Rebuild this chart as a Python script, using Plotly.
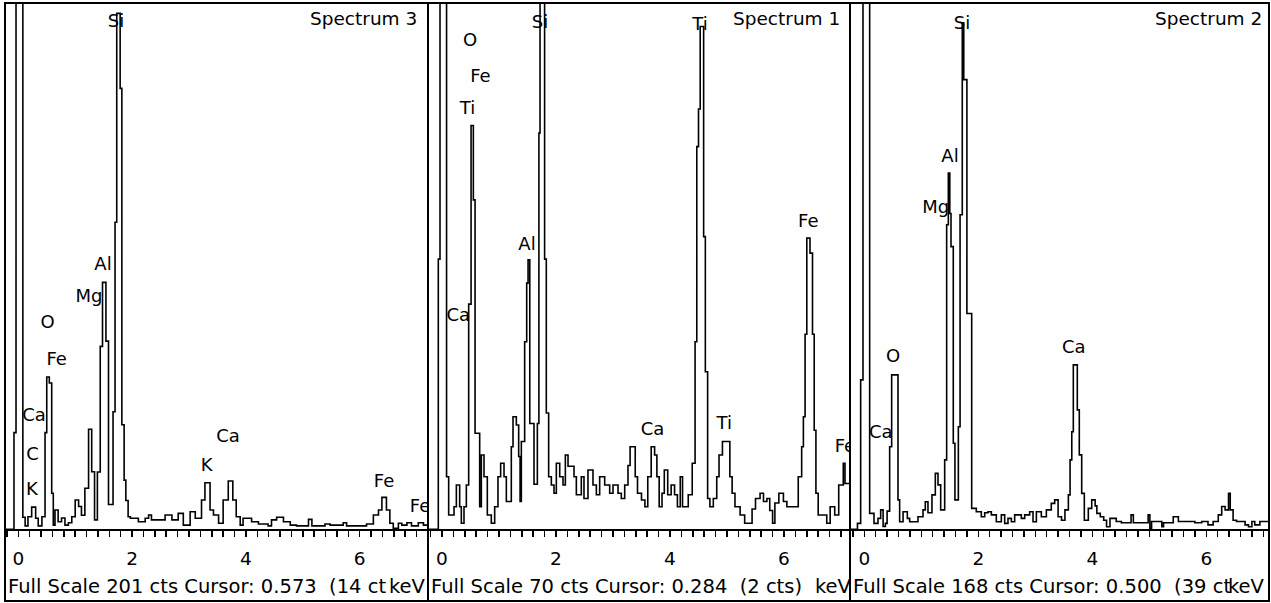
import plotly.graph_objects as go

W, H = 1271, 603
FONT = "DejaVu Sans"

# ---------------- data (energies in keV = bin edges, counts per bin) ----------------
# Spectrum 3 (left panel)
spec3_edges = [-0.25, -0.076, -0.04, 0.08, 0.12, 0.17, 0.235, 0.305, 0.35, 0.415,
               0.47, 0.50, 0.545, 0.587, 0.615, 0.645, 0.70, 0.76, 0.82, 0.88,
               0.94, 1.00, 1.06, 1.11, 1.17, 1.235, 1.29, 1.34, 1.39, 1.44,
               1.48, 1.54, 1.585, 1.665, 1.70, 1.73, 1.79, 1.82, 1.86, 1.89,
               1.93, 1.97, 2.11, 2.23, 2.29, 2.34, 2.58, 2.70, 2.81, 2.90,
               3.02, 3.11, 3.22, 3.28, 3.37, 3.43, 3.52, 3.60, 3.69, 3.77,
               3.83, 3.90, 3.95, 4.10, 4.22, 4.39, 4.45, 4.54, 4.66, 4.78,
               4.89, 5.10, 5.16, 5.39, 5.48, 5.71, 5.77, 6.12, 6.24, 6.33,
               6.39, 6.47, 6.53, 6.59, 6.68, 6.74, 6.83, 6.91, 7.03, 7.12, 7.25]
spec3_counts = [0, 37, 1000, 4.6, 1.3, 4.8, 8.5, 4.2, 1.3, 4.8,
                37, 58.3, 56, 13.8, 1.6, 7.4, 2.9, 4.3, 1.6, 2.5,
                4.8, 11.2, 8.7, 5.4, 15.7, 38.3, 22, 3.6, 21.9, 70,
                94.5, 72, 9.5, 45, 117.5, 197.4, 168.7, 40, 18.8, 11,
                4.8, 4.2, 2.9, 4.2, 5.5, 3.6, 5.5, 3.6, 6.1, 1.6,
                6.7, 4.2, 11.2, 17.8, 7.4, 5.5, 2.3, 11.2, 18.5, 11.2,
                4.8, 1.6, 4.2, 2.9, 2.0, 1.3, 3.6, 4.6, 2.9, 1.6,
                1.3, 3.8, 1.3, 2.0, 1.6, 2.5, 1.3, 2.0, 5.5, 7.4,
                12.2, 7.4, 2.3, 0.4, 2.3, 1.6, 2.5, 1.3, 2.5, 1.6]
spec3_full_scale = 201
spec3_label_text = ["Si", "Al", "Mg", "O", "Fe", "Ca", "C", "K", "K", "Ca", "Fe", "Fe"]
spec3_label_kev = [1.717, 1.489, 1.243, 0.513, 0.675, 0.276, 0.25, 0.241, 3.311, 3.685, 6.427, 7.06]
spec3_label_cts = [193.9, 100.8, 88.6, 78.6, 64.4, 43.0, 28.1, 14.7, 23.9, 35.3, 18.1, 8.3]

# Spectrum 1 (middle panel)
spec1_edges = [-0.25, -0.065, -0.035, 0.08, 0.117, 0.211, 0.252, 0.31, 0.339, 0.386,
               0.427, 0.468, 0.51, 0.55, 0.58, 0.661, 0.69, 0.737, 0.795, 0.865,
               0.924, 0.982, 1.029, 1.088, 1.129, 1.216, 1.246, 1.304, 1.345, 1.37,
               1.392, 1.45, 1.486, 1.51, 1.54, 1.614, 1.673, 1.70, 1.72, 1.80,
               1.83, 1.871, 1.918, 1.965, 2.006, 2.065, 2.123, 2.164, 2.211, 2.316,
               2.357, 2.444, 2.491, 2.561, 2.649, 2.708, 2.766, 2.854, 2.942, 3.0,
               3.088, 3.146, 3.205, 3.263, 3.30, 3.39, 3.43, 3.50, 3.56, 3.61,
               3.67, 3.73, 3.77, 3.81, 3.86, 3.90, 3.96, 4.02, 4.08, 4.13,
               4.18, 4.22, 4.32, 4.39, 4.44, 4.47, 4.50, 4.53, 4.59, 4.62,
               4.66, 4.70, 4.76, 4.82, 4.86, 4.92, 5.05, 5.09, 5.14, 5.23,
               5.31, 5.44, 5.50, 5.58, 5.64, 5.70, 5.75, 5.80, 5.84, 5.91,
               5.99, 6.05, 6.25, 6.31, 6.34, 6.37, 6.40, 6.456, 6.50, 6.53,
               6.56, 6.60, 6.75, 6.81, 6.89, 6.96, 7.04, 7.07, 7.20]
spec1_counts = [0, 36, 200, 7.0, 1.9, 3.0, 5.9, 3.0, 0.8, 3.0,
                5.9, 30, 53.8, 43.9, 12.8, 3.0, 9.9, 7.0, 1.9, 0.8,
                3.0, 7.0, 8.8, 7.0, 3.7, 11.0, 15.0, 13.9, 9.7, 3.7,
                11.7, 25, 32.8, 35.9, 14.1, 6.0, 14.1, 52.8, 200, 36,
                15.5, 7.0, 5.9, 4.8, 8.8, 7.0, 5.9, 9.9, 8.4, 7.0,
                4.6, 7.0, 4.1, 7.9, 5.9, 4.6, 7.0, 5.9, 4.8, 5.9,
                4.8, 4.1, 5.9, 8.5, 11.0, 7.0, 4.8, 3.9, 3.0, 7.0,
                11.0, 9.9, 7.0, 3.0, 4.8, 7.9, 4.6, 5.9, 4.6, 3.0,
                7.0, 3.0, 4.6, 8.8, 25, 51, 56, 67, 39, 21,
                4.1, 3.0, 4.1, 7.0, 9.9, 11.7, 7.0, 4.8, 3.0, 1.9,
                0.8, 2.7, 4.1, 4.8, 3.7, 4.1, 2.5, 0.8, 3.5, 4.8,
                3.7, 3.0, 7.0, 11.0, 15.0, 26, 38.8, 36.8, 26, 13.2,
                4.8, 1.9, 0.8, 3.0, 1.9, 5.9, 8.8, 6.1]
spec1_full_scale = 70
spec1_label_text = ["O", "Fe", "Ti", "Si", "Ti", "Al", "Fe", "Ca", "Ca", "Ti", "Fe"]
spec1_label_kev = [0.491, 0.675, 0.447, 1.719, 4.526, 1.491, 6.426, 0.286, 3.693, 4.953, 7.07]
spec1_label_cts = [65.0, 60.2, 55.9, 67.4, 67.2, 37.8, 40.9, 28.3, 13.2, 14.0, 10.9]

# Spectrum 2 (right panel)
spec2_edges = [-0.25, -0.12, -0.064, -0.023, 0.094, 0.17, 0.24, 0.287, 0.33, 0.37,
               0.40, 0.445, 0.48, 0.591, 0.62, 0.68, 0.755, 0.796, 0.942, 1.03,
               1.07, 1.117, 1.187, 1.246, 1.293, 1.34, 1.41, 1.445, 1.474, 1.50,
               1.521, 1.561, 1.59, 1.65, 1.68, 1.719, 1.745, 1.80, 1.884, 1.965,
               2.053, 2.112, 2.17, 2.229, 2.316, 2.404, 2.463, 2.521, 2.58, 2.638,
               2.755, 2.814, 2.901, 2.96, 3.019, 3.106, 3.194, 3.28, 3.34, 3.40,
               3.46, 3.52, 3.58, 3.61, 3.64, 3.667, 3.737, 3.772, 3.814, 3.86,
               3.93, 3.99, 4.05, 4.08, 4.14, 4.20, 4.25, 4.31, 4.42, 4.51,
               4.68, 4.72, 4.98, 5.01, 5.04, 5.22, 5.25, 5.42, 5.51, 5.80,
               5.92, 6.03, 6.12, 6.21, 6.27, 6.33, 6.39, 6.42, 6.47, 6.53,
               6.68, 6.74, 6.80, 6.85, 6.94, 7.15]
spec2_counts = [0, 1.9, 47.8, 800, 5.1, 1.9, 3.5, 6.2, 0.9, 1.9,
                5.8, 26.4, 49.4, 9.4, 2.4, 5.6, 3.5, 2.4, 4.0, 6.2,
                8.8, 5.3, 11.0, 17.9, 14.2, 6.2, 22.2, 97.4, 113.9, 101,
                90.4, 27.5, 9.4, 32.8, 100.6, 162, 143.8, 69, 6.7, 5.6,
                4.0, 5.3, 5.6, 4.6, 2.4, 4.6, 1.9, 3.5, 2.4, 4.6,
                3.5, 4.6, 5.6, 2.4, 5.6, 4.0, 6.2, 8.3, 9.4, 4.0,
                2.9, 6.2, 11.0, 22.2, 31.2, 52.6, 38.2, 23.8, 11.5, 2.9,
                6.7, 9.4, 7.5, 5.1, 4.0, 2.9, 0.8, 3.5, 2.5, 2.1,
                4.6, 2.1, 4.6, 0.3, 2.5, 0.8, 2.1, 4.0, 2.5, 2.1,
                2.5, 1.4, 2.5, 4.6, 7.3, 6.2, 11.5, 6.2, 2.9, 2.5,
                1.4, 0.8, 2.5, 1.4, 2.5]
spec2_full_scale = 168
spec2_label_text = ["Si", "Al", "Mg", "O", "Ca", "Ca"]
spec2_label_kev = [1.714, 1.504, 1.254, 0.504, 0.29, 3.676]
spec2_label_cts = [161.4, 119.0, 102.7, 55.0, 30.7, 57.8]

tick_values = [0, 2, 4, 6]
tick_text = ["0", "2", "4", "6"]

# ---------------- layout geometry (pixels) ----------------
panels = [
    dict(title="Spectrum 3", edges=spec3_edges, counts=spec3_counts, fs=spec3_full_scale,
         lt=spec3_label_text, le=spec3_label_kev, lc=spec3_label_cts,
         left=5, right=428, zero=18.3, scale=56.9, title_right=419,
         footer="Full Scale 201 cts Cursor: 0.573\u00a0\u00a0(14 ct", kev_right=427.5),
    dict(title="Spectrum 1", edges=spec1_edges, counts=spec1_counts, fs=spec1_full_scale,
         lt=spec1_label_text, le=spec1_label_kev, lc=spec1_label_cts,
         left=428, right=850, zero=442.0, scale=57.0, title_right=842,
         footer="Full Scale 70 cts Cursor: 0.284\u00a0\u00a0(2 cts)", kev_right=854),
    dict(title="Spectrum 2", edges=spec2_edges, counts=spec2_counts, fs=spec2_full_scale,
         lt=spec2_label_text, le=spec2_label_kev, lc=spec2_label_cts,
         left=850, right=1269, zero=864.3, scale=57.0, title_right=1264,
         footer="Full Scale 168 cts Cursor: 0.500\u00a0\u00a0(39 ct", kev_right=1267),
]
BASE_Y = 529.3
TOP_Y = 4.0
FRAME_TOP, FRAME_BOTTOM = 3, 601

def px(x):
    return x / W

def py(y):
    return 1 - y / H

fig = go.Figure()
shapes = []
annotations = []
layout_axes = {}

for i, p in enumerate(panels):
    n = "" if i == 0 else str(i + 1)
    xa, ya = "x" + n, "y" + n
    ys = list(p["counts"]) + [p["counts"][-1]]
    fig.add_trace(go.Scatter(
        x=p["edges"], y=ys, mode="lines",
        line=dict(shape="hv", color="black", width=1.6),
        xaxis=xa, yaxis=ya, showlegend=False, hoverinfo="skip"))
    fig.add_trace(go.Scatter(
        x=p["le"], y=p["lc"], mode="text", text=p["lt"],
        textposition="middle center",
        textfont=dict(family=FONT, size=18, color="black"),
        xaxis=xa, yaxis=ya, showlegend=False, cliponaxis=True, hoverinfo="skip"))

    xr = [(p["left"] - p["zero"]) / p["scale"], (p["right"] - p["zero"]) / p["scale"]]
    layout_axes["xaxis" + n] = dict(
        domain=[px(p["left"]), px(p["right"])], range=xr, anchor=ya,
        showline=True, linecolor="black", linewidth=1.6,
        ticks="outside", ticklen=6, tickwidth=1.5, tickcolor="black",
        tickmode="array", tickvals=tick_values, ticktext=tick_text,
        minor=dict(dtick=0.2, tick0=0, ticks="outside", ticklen=6,
                   tickwidth=1.5, tickcolor="black", showgrid=False),
        showgrid=False, zeroline=False, fixedrange=True,
        tickfont=dict(family=FONT, size=18.5, color="black"),
        ticklabelstandoff=6)
    layout_axes["yaxis" + n] = dict(
        domain=[py(BASE_Y), py(TOP_Y)], range=[0, p["fs"]], anchor=xa,
        visible=False, showgrid=False, zeroline=False, fixedrange=True)

    shapes.append(dict(type="rect", xref="paper", yref="paper",
                       x0=px(p["left"]), x1=px(p["right"]),
                       y0=py(FRAME_BOTTOM), y1=py(FRAME_TOP),
                       line=dict(color="black", width=2), fillcolor="rgba(0,0,0,0)",
                       layer="above"))
    annotations.append(dict(text=p["title"], xref="paper", yref="paper",
                            x=px(p["title_right"]), y=py(19), xanchor="right", yanchor="middle",
                            showarrow=False, font=dict(family=FONT, size=18.5, color="black")))
    annotations.append(dict(text=p["footer"], xref="paper", yref="paper",
                            x=px(p["left"] + 0.5), y=py(586), xanchor="left", yanchor="middle",
                            showarrow=False, font=dict(family=FONT, size=19.5, color="black")))
    annotations.append(dict(text="keV", xref="paper", yref="paper",
                            x=px(p["kev_right"]), y=py(586), xanchor="right", yanchor="middle",
                            showarrow=False, font=dict(family=FONT, size=19.5, color="black")))

fig.update_layout(width=W, height=H, margin=dict(l=0, r=0, t=0, b=0),
                  paper_bgcolor="white", plot_bgcolor="white",
                  shapes=shapes, annotations=annotations, showlegend=False,
                  **layout_axes)

fig.write_html("out.html",
               config={"displayModeBar": False, "staticPlot": True},
               post_script="document.body.style.margin='0';document.body.style.padding='0';"
                           "document.body.style.overflow='hidden';")
